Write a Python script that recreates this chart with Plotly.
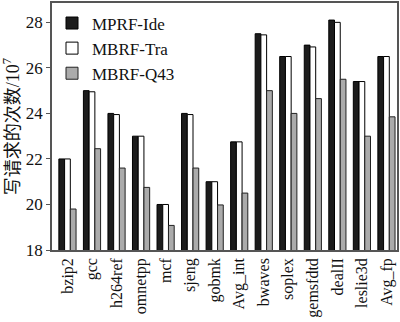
import plotly.graph_objects as go

categories = ["bzip2", "gcc", "h264ref", "omnetpp", "mcf", "sjeng", "gobmk", "Avg_int",
              "bwaves", "soplex", "gemsfdtd", "dealII", "leslie3d", "Avg_fp"]
mprf_ide = [22.0, 25.0, 24.0, 23.0, 20.0, 24.0, 21.0, 22.75, 27.5, 26.5, 27.0, 28.1, 25.4, 26.5]
mbrf_tra = [22.0, 24.95, 23.95, 23.0, 20.0, 23.95, 21.0, 22.75, 27.45, 26.5, 26.92, 28.0, 25.4, 26.5]
mbrf_q43 = [19.8, 22.45, 21.6, 20.75, 19.08, 21.6, 19.98, 20.5, 25.0, 24.0, 24.65, 25.5, 23.0, 23.85]
y_ticks = [18, 20, 22, 24, 26, 28]

font_fam = "Liberation Serif, Times New Roman, Noto Sans CJK SC, serif"

fig = go.Figure()
fig.add_trace(go.Bar(x=categories, y=mprf_ide, name="MPRF-Ide",
                     marker=dict(color="#1c1c1c", line=dict(color="#000000", width=1))))
fig.add_trace(go.Bar(x=categories, y=mbrf_tra, name="MBRF-Tra",
                     marker=dict(color="#ffffff", line=dict(color="#000000", width=1))))
fig.add_trace(go.Bar(x=categories, y=mbrf_q43, name="MBRF-Q43",
                     marker=dict(color="#ababab", line=dict(color="#222222", width=1))))

fig.update_layout(
    width=400, height=322,
    margin=dict(l=52, r=1, t=1, b=72),
    paper_bgcolor="white", plot_bgcolor="white",
    barmode="group", bargap=0.3, bargroupgap=0,
    font=dict(family=font_fam, size=16, color="#111111"),
    showlegend=True,
    legend=dict(x=0.0, y=0.99, xanchor="left", yanchor="top",
                bgcolor="rgba(0,0,0,0)", font=dict(size=17, family=font_fam),
                tracegroupgap=0, itemwidth=30),
    xaxis=dict(type="category", range=[-0.63, 13.43], tickangle=-90,
               showline=True, linecolor="#555555", linewidth=1.5, mirror=True,
               ticks="", showgrid=False, tickfont=dict(size=16, family=font_fam)),
    yaxis=dict(range=[18, 28.85], tickvals=y_ticks, ticks="outside", ticklen=4,
               tickcolor="#555555",
               showline=True, linecolor="#555555", linewidth=1.5, mirror=True,
               showgrid=False, zeroline=False, tickfont=dict(size=17, family=font_fam),
               title=dict(text="写请求的次数/10<sup>7</sup>", standoff=3,
                          font=dict(size=18, family=font_fam))),
)

fig.write_html("out.html")
